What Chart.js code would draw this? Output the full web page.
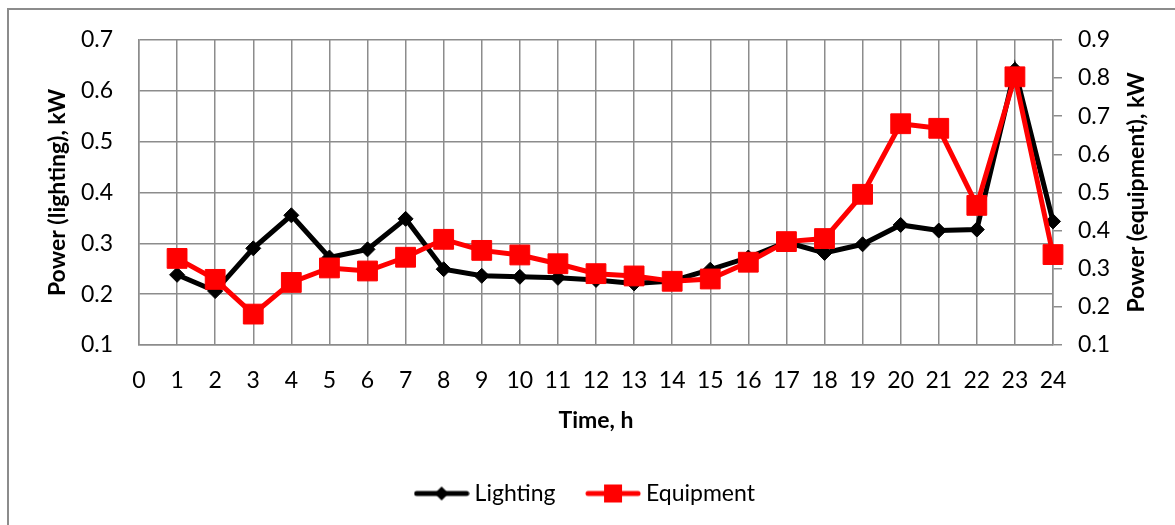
<!DOCTYPE html>
<html>
<head>
<meta charset="utf-8">
<script src="https://cdn.jsdelivr.net/npm/chart.js@4"></script>
<style>
  html, body { margin: 0; padding: 0; background: #fff; }
  #frame { position: absolute; left: 7px; top: 8px; width: 1300px; height: 600px;
           border-left: 2px solid #8c8c8c; border-top: 2px solid #8c8c8c; }
  #c { position: absolute; left: 0; top: 0; }
</style>
</head>
<body>
<div id="frame"></div>
<canvas id="c" width="1175" height="525"></canvas>
<script>
// hours on the x axis
const hours = [1, 2, 3, 4, 5, 6, 7, 8, 9, 10, 11, 12, 13, 14, 15, 16, 17, 18, 19, 20, 21, 22, 23, 24];
// kW, left axis
const lighting = [0.238, 0.206, 0.290, 0.355, 0.272, 0.288, 0.348, 0.249, 0.236, 0.234, 0.232, 0.228,
                  0.221, 0.226, 0.248, 0.272, 0.302, 0.281, 0.298, 0.336, 0.325, 0.327, 0.641, 0.343];
// kW, right axis
const equipment = [0.327, 0.272, 0.181, 0.264, 0.302, 0.294, 0.330, 0.377, 0.348, 0.336, 0.313, 0.287,
                   0.281, 0.267, 0.273, 0.317, 0.371, 0.379, 0.495, 0.680, 0.668, 0.466, 0.803, 0.337];

const xTitle = 'Time, h';
const yLeftTitle = 'Power (lighting), kW';
const yRightTitle = 'Power (equipment), kW';
const seriesNames = ['Lighting', 'Equipment'];

const FONT = 'Lato, "Open Sans", sans-serif';
const GRID = '#8c8c8c';

// legend icon: thick line with the marker in the middle
function legendIcon(color, shape) {
  const c = document.createElement('canvas');
  c.width = 56; c.height = 22;
  const g = c.getContext('2d');
  g.strokeStyle = color;
  g.fillStyle = color;
  g.lineWidth = 5;
  g.lineCap = 'round';
  g.beginPath(); g.moveTo(3, 11); g.lineTo(53, 11); g.stroke();
  g.beginPath();
  if (shape === 'diamond') {
    g.moveTo(28, 4); g.lineTo(35, 11); g.lineTo(28, 18); g.lineTo(21, 11); g.closePath(); g.fill();
  } else {
    g.fillRect(19, 2, 18, 18);
  }
  return c;
}
const icons = [legendIcon('#000000', 'diamond'), legendIcon('#ff0000', 'square')];

const rightTitle = {
  id: 'rightTitle',
  afterDraw(chart) {
    const { ctx, chartArea } = chart;
    const s = chart.scales.y1;
    ctx.save();
    ctx.translate(s.right - 38, (chartArea.top + chartArea.bottom) / 2);
    ctx.rotate(-Math.PI / 2);
    ctx.font = 'bold 23px ' + FONT;
    ctx.fillStyle = '#000';
    ctx.textAlign = 'center';
    ctx.textBaseline = 'middle';
    ctx.fillText(yRightTitle, 0, 0);
    ctx.restore();
  }
};

function draw() {
  new Chart(document.getElementById('c'), {
    type: 'line',
    data: {
      datasets: [
        {
          label: seriesNames[0],
          data: hours.map((h, i) => ({ x: h, y: lighting[i] })),
          yAxisID: 'y',
          borderColor: '#000000',
          backgroundColor: '#000000',
          borderWidth: 5,
          pointStyle: 'rectRot',
          pointRadius: 7.5,
          pointBorderWidth: 1,
          clip: false,
          order: 1
        },
        {
          label: seriesNames[1],
          data: hours.map((h, i) => ({ x: h, y: equipment[i] })),
          yAxisID: 'y1',
          borderColor: '#ff0000',
          backgroundColor: '#ff0000',
          borderWidth: 5,
          pointStyle: 'rect',
          pointRadius: 14,
          pointBorderWidth: 1,
          clip: false,
          order: 0
        }
      ]
    },
    options: {
      responsive: false,
      animation: false,
      layout: { padding: { top: 38, left: 0, right: 0, bottom: 10 } },
      plugins: {
        tooltip: { enabled: false },
        legend: {
          position: 'bottom',
          labels: {
            usePointStyle: true,
            pointStyleWidth: 43,
            padding: 36,
            color: '#000',
            font: { family: FONT, size: 23 },
            generateLabels(chart) {
              return Chart.defaults.plugins.legend.labels.generateLabels(chart)
                .map(l => ({ ...l, pointStyle: icons[l.datasetIndex] }))
                .sort((a, b) => a.datasetIndex - b.datasetIndex);
            }
          }
        }
      },
      scales: {
        x: {
          type: 'linear',
          min: 0,
          max: 24,
          ticks: { stepSize: 1, autoSkip: false, maxRotation: 0, padding: 22, color: '#000',
                   font: { family: FONT, size: 23 } },
          grid: { color: GRID, lineWidth: 1.5, drawTicks: false },
          border: { color: GRID, width: 1.5 },
          title: { display: true, text: xTitle, color: '#000', font: { family: FONT, size: 23, weight: 'bold' },
                   padding: { top: 0, bottom: 12 } },
          afterFit(s) { s.height = 101; }
        },
        y: {
          position: 'left',
          min: 0.1,
          max: 0.7,
          ticks: { stepSize: 0.1, padding: 26, color: '#000', font: { family: FONT, size: 23 } },
          grid: { color: GRID, lineWidth: 1.5, drawTicks: false },
          border: { color: GRID, width: 1.5 },
          title: { display: true, text: yLeftTitle, color: '#000', font: { family: FONT, size: 23, weight: 'bold' },
                   padding: { top: 44, bottom: 0 } },
          afterFit(s) { s.width = 139; }
        },
        y1: {
          position: 'right',
          min: 0.1,
          max: 0.9,
          ticks: { stepSize: 0.1, padding: 16, color: '#000', font: { family: FONT, size: 23 } },
          grid: { color: GRID, lineWidth: 1.5, drawOnChartArea: false, drawTicks: true, tickLength: 9 },
          border: { color: GRID, width: 1.5 },
          afterFit(s) { s.width = 122; }
        }
      }
    },
    plugins: [rightTitle]
  });
}

if (document.fonts && document.fonts.load) {
  Promise.all([document.fonts.load('23px Lato'), document.fonts.load('bold 23px Lato')]).then(draw, draw);
} else {
  draw();
}
</script>
</body>
</html>
